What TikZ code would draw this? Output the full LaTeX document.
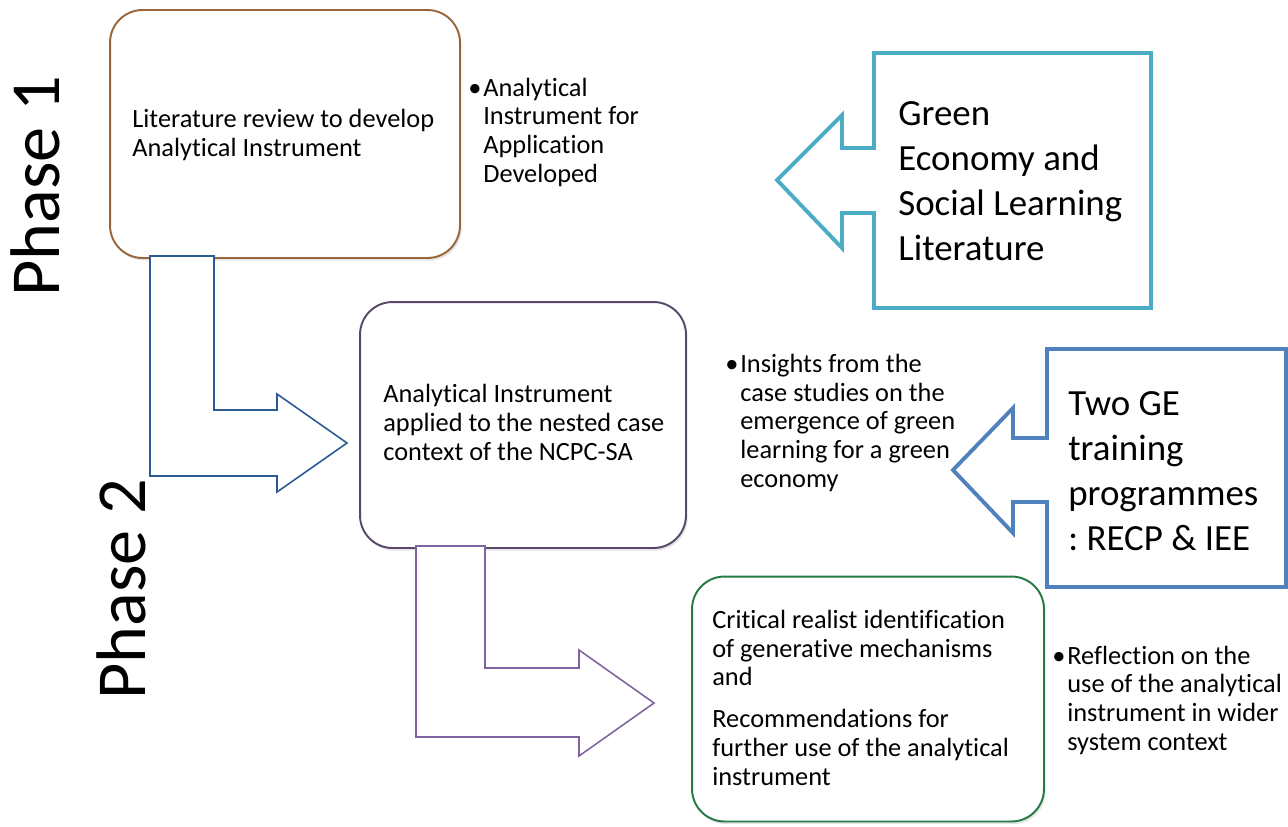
\documentclass[tikz,border=0pt]{standalone}
\usepackage{fontspec}
\setmainfont{Carlito}[Ligatures=NoCommon]
\frenchspacing
\usetikzlibrary{shadows}

\definecolor{boxbrown}{RGB}{152,102,58}
\definecolor{boxplum}{RGB}{88,72,106}
\definecolor{boxgreen}{RGB}{36,122,68}
\definecolor{arrowblue}{RGB}{44,90,150}
\definecolor{arrowlilac}{RGB}{128,100,162}
\definecolor{sourcecyan}{RGB}{75,172,198}
\definecolor{sourceblue}{RGB}{79,129,189}

\tikzset{
  stagebox/.style={draw, line width=1.1pt, rounded corners=0.65cm, fill=white,
    drop shadow={opacity=0.2, shadow xshift=1pt, shadow yshift=-1.5pt}},
  % multi-line nodes: base anchor sits on the last line
  stagetext/.style={anchor=base west, inner sep=0pt, align=left,
    font=\fontsize{15}{16.3}\selectfont},
  sourcetext/.style={anchor=base west, inner sep=0pt, align=left,
    font=\fontsize{21}{25.6}\selectfont},
  phaselabel/.style={anchor=base, inner sep=0pt, rotate=90,
    font=\fontsize{40}{48}\selectfont},
  flowarrow/.style={line width=0.9pt, fill=white, line join=miter},
  sourcearrow/.style={line width=2.2pt, fill=white, line join=miter}
}

\begin{document}
\begin{tikzpicture}[x=0.02cm, y=-0.02cm]
  \path[use as bounding box, fill=white] (0,0) rectangle (1288,826);

  % phase labels
  \node[phaselabel] (phase1) at (59,186) {Phase 1};
  \node[phaselabel] (phase2) at (145,589) {Phase 2};

  % the three stages
  \node[stagebox, draw=boxbrown, minimum width=7cm, minimum height=4.96cm] (review) at (285,134) {};
  \node[stagebox, draw=boxplum, minimum width=6.52cm, minimum height=4.92cm] (applied) at (523,425) {};
  \node[stagebox, draw=boxgreen, minimum width=7.04cm, minimum height=4.9cm] (realist) at (868,699) {};

  \node[stagetext] (reviewtext) at (132,156) {Literature review to develop\\Analytical Instrument};
  \node[stagetext] (appliedtext) at (383,460) {Analytical Instrument\\applied to the nested case\\context of the NCPC-SA};
  \node[stagetext] (realisttext) at (712,785) {Critical realist identification\\of generative mechanisms\\and\\[7.5pt]Recommendations for\\further use of the analytical\\instrument};

  % outcomes of each stage
  \node[stagetext] (outcome1) at (483,182) {\llap{\textbullet\kern1pt}Analytical\\Instrument for\\Application\\Developed};
  \node[stagetext] (outcome2) at (740,487) {\llap{\textbullet\kern1pt}Insights from the\\case studies on the\\emergence of green\\learning for a green\\economy};
  \node[stagetext] (outcome3) at (1067,750) {\llap{\textbullet\kern1pt}Reflection on the\\use of the analytical\\instrument in wider\\system context};

  % bent arrows between stages
  \draw[flowarrow, draw=arrowblue] (150,256) -- (214,256) -- (214,410) -- (277,410) -- (277,394)
    -- (347,443) -- (277,492) -- (277,476) -- (150,476) -- cycle;
  \draw[flowarrow, draw=arrowlilac] (416,546) -- (485,546) -- (485,668) -- (579,668) -- (579,650)
    -- (654,703) -- (579,756) -- (579,737) -- (416,737) -- cycle;

  % input callouts
  \draw[sourcearrow, draw=sourcecyan] (874,53) -- (1151,53) -- (1151,308) -- (874,308) -- (874,213)
    -- (842,213) -- (842,248) -- (777,180) -- (842,115) -- (842,148) -- (874,148) -- cycle;
  \draw[sourcearrow, draw=sourceblue] (1047,349) -- (1286,349) -- (1286,587) -- (1047,587) -- (1047,502)
    -- (1013,502) -- (1013,533) -- (953,470) -- (1013,408) -- (1013,438) -- (1047,438) -- cycle;

  \node[sourcetext] (literature) at (898,260) {Green\\Economy and\\Social Learning\\Literature};
  \node[sourcetext] (training) at (1068,550) {Two GE\\training\\programmes\\: RECP \& IEE};
\end{tikzpicture}
\end{document}
